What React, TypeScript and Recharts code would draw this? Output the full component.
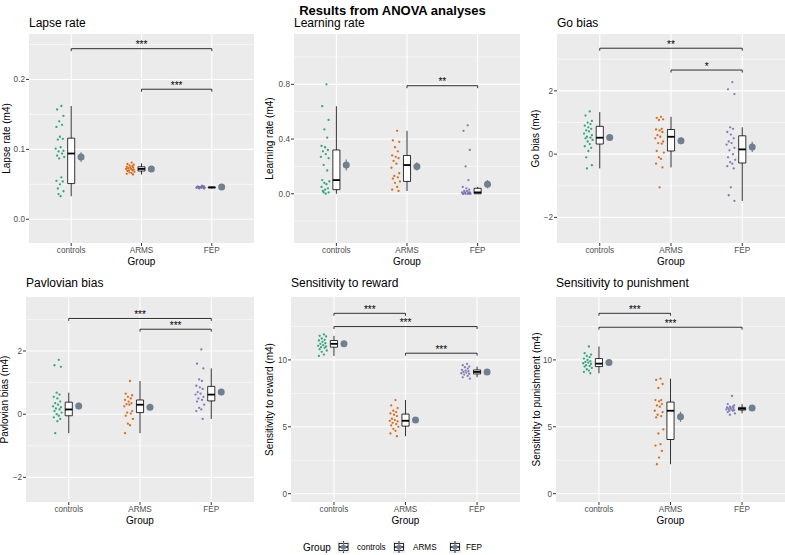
import React from "react";
import {
  ComposedChart,
  Scatter,
  XAxis,
  YAxis,
  CartesianGrid,
  ReferenceArea,
  ReferenceLine,
  ErrorBar,
} from "recharts";

// ── groups / colours ─────────────────────────────────────────────────────────

const GROUPS = ["controls", "ARMS", "FEP"];
const GROUP_COLORS = ["#1B9E77", "#D95F02", "#7570B3"];
const MEAN_COLOR = "#708090";
const FONT = '"Liberation Sans", Arial, Helvetica, sans-serif';

// horizontal jitter of the raw points (group units)
const JITTER = [
  0.02, -0.04, 0.05, -0.01, 0.03, -0.05, 0.0, 0.04, -0.03, 0.01, -0.06, 0.05, -0.02, 0.03,
  -0.04, 0.06, -0.01, 0.02, -0.05, 0.04, 0.0, -0.03, 0.05, -0.02, 0.01, -0.06, 0.03, -0.04,
];

// box = [lower whisker, q1, median, q3, upper whisker]

// ── Lapse rate ───────────────────────────────────────────────────────────────
const LAPSE_CONTROLS = [0.162, 0.157, 0.148, 0.14, 0.135, 0.132, 0.118, 0.115, 0.114, 0.103, 0.101, 0.098, 0.097, 0.094, 0.091, 0.089, 0.087, 0.06, 0.055, 0.054, 0.05, 0.044, 0.04, 0.036, 0.033];
const LAPSE_ARMS = [0.081, 0.079, 0.078, 0.077, 0.076, 0.075, 0.074, 0.074, 0.073, 0.072, 0.072, 0.071, 0.07, 0.07, 0.069, 0.068, 0.067, 0.066, 0.065, 0.064];
const LAPSE_FEP = [0.048, 0.047, 0.047, 0.046, 0.046, 0.046, 0.046, 0.045, 0.045, 0.045, 0.045, 0.044, 0.044, 0.047, 0.046, 0.045, 0.046, 0.047];
const LAPSE_BOX = [[0.033, 0.051, 0.094, 0.116, 0.162], [0.064, 0.069, 0.072, 0.075, 0.08], [0.044, 0.045, 0.0455, 0.046, 0.047]];
const LAPSE_MEAN = [0.089, 0.072, 0.046];
const LAPSE_SE = [0.007, 0.001, 0.0005];
const LAPSE_SIG = [{ from: 1, to: 3, y: 0.244, label: "***" }, { from: 2, to: 3, y: 0.186, label: "***" }];
const LAPSE_TICKS = [0, 0.1, 0.2];
const LAPSE_MINOR = [0.05, 0.15, 0.25];
const LAPSE_DOMAIN = [-0.034, 0.265];

// ── Learning rate ────────────────────────────────────────────────────────────
const LEARN_CONTROLS = [0.8, 0.64, 0.54, 0.47, 0.41, 0.35, 0.34, 0.32, 0.31, 0.29, 0.27, 0.26, 0.21, 0.17, 0.1, 0.09, 0.08, 0.07, 0.05, 0.04, 0.03, 0.02, 0.01, 0.01, 0.0];
const LEARN_ARMS = [0.46, 0.39, 0.38, 0.34, 0.31, 0.28, 0.27, 0.26, 0.24, 0.22, 0.19, 0.15, 0.13, 0.12, 0.11, 0.09, 0.08, 0.05, 0.03, 0.02];
const LEARN_FEP = [0.5, 0.46, 0.32, 0.2, 0.1, 0.05, 0.04, 0.03, 0.02, 0.02, 0.01, 0.01, 0.01, 0.01, 0.0, 0.0, 0.0, 0.0, 0.0, 0.0];
const LEARN_BOX = [[0.0, 0.03, 0.1, 0.32, 0.64], [0.02, 0.09, 0.21, 0.28, 0.46], [0.0, 0.0, 0.01, 0.04, 0.05]];
const LEARN_MEAN = [0.21, 0.2, 0.07];
const LEARN_SE = [0.04, 0.03, 0.03];
const LEARN_SIG = [{ from: 2, to: 3, y: 0.79, label: "**" }];
const LEARN_TICKS = [0, 0.4, 0.8];
const LEARN_MINOR = [-0.2, 0.2, 0.6, 1.0];
const LEARN_DOMAIN = [-0.36, 1.168];

// ── Go bias ──────────────────────────────────────────────────────────────────
const GO_CONTROLS = [1.35, 1.22, 1.05, 1.0, 0.95, 0.9, 0.85, 0.8, 0.75, 0.72, 0.65, 0.6, 0.55, 0.52, 0.5, 0.45, 0.4, 0.32, 0.25, 0.2, 0.1, -0.1, -0.35, -0.45];
const GO_ARMS = [1.18, 1.15, 1.1, 1.08, 0.8, 0.78, 0.75, 0.7, 0.6, 0.55, 0.5, 0.4, 0.35, 0.33, 0.1, 0.05, -0.1, -0.15, -0.3, -0.42, -1.05];
const GO_FEP = [2.28, 2.05, 1.9, 0.85, 0.8, 0.7, 0.62, 0.5, 0.4, 0.35, 0.3, 0.2, 0.12, 0.0, -0.1, -0.18, -0.25, -0.3, -0.38, -0.45, -1.05, -1.3, -1.48];
const GO_BOX = [[-0.45, 0.32, 0.52, 0.88, 1.33], [-0.42, 0.1, 0.55, 0.78, 1.18], [-1.48, -0.28, 0.15, 0.58, 0.85]];
const GO_MEAN = [0.53, 0.42, 0.23];
const GO_SE = [0.08, 0.11, 0.16];
const GO_SIG = [{ from: 1, to: 3, y: 3.35, label: "**" }, { from: 2, to: 3, y: 2.66, label: "*" }];
const GO_TICKS = [-2, 0, 2];
const GO_MINOR = [-1, 1, 3];
const GO_DOMAIN = [-2.81, 3.8];

// ── Pavlovian bias ───────────────────────────────────────────────────────────
const PAV_CONTROLS = [1.72, 1.55, 1.5, 0.68, 0.62, 0.55, 0.5, 0.4, 0.35, 0.3, 0.25, 0.22, 0.18, 0.15, 0.1, 0.05, 0.0, -0.05, -0.1, -0.15, -0.22, -0.6];
const PAV_ARMS = [1.05, 0.65, 0.6, 0.55, 0.5, 0.45, 0.4, 0.35, 0.32, 0.3, 0.25, 0.1, 0.05, 0.02, -0.05, -0.15, -0.3, -0.35, -0.6];
const PAV_FEP = [2.05, 1.6, 1.45, 1.1, 1.05, 0.9, 0.85, 0.8, 0.7, 0.65, 0.62, 0.55, 0.5, 0.45, 0.4, 0.3, 0.2, 0.15, 0.1, -0.15];
const PAV_BOX = [[-0.6, -0.05, 0.15, 0.38, 0.68], [-0.6, 0.05, 0.3, 0.45, 1.05], [-0.15, 0.42, 0.62, 0.88, 1.45]];
const PAV_MEAN = [0.26, 0.22, 0.7];
const PAV_SE = [0.1, 0.08, 0.1];
const PAV_SIG = [{ from: 1, to: 3, y: 3.03, label: "***" }, { from: 2, to: 3, y: 2.69, label: "***" }];
const PAV_TICKS = [-2, 0, 2];
const PAV_MINOR = [-1, 1, 3];
const PAV_DOMAIN = [-2.78, 3.71];

// ── Sensitivity to reward ────────────────────────────────────────────────────
const REW_CONTROLS = [11.9, 11.8, 11.75, 11.6, 11.5, 11.45, 11.35, 11.25, 11.2, 11.1, 11.05, 11.0, 10.95, 10.9, 10.8, 10.7, 10.6, 10.4, 10.3];
const REW_ARMS = [7.0, 6.6, 6.4, 6.2, 6.1, 6.0, 5.9, 5.8, 5.6, 5.5, 5.45, 5.4, 5.3, 5.2, 5.1, 5.0, 4.85, 4.7, 4.5, 4.3];
const REW_FEP = [9.7, 9.6, 9.5, 9.45, 9.35, 9.25, 9.2, 9.15, 9.1, 9.05, 9.0, 8.95, 8.9, 8.8, 8.7, 8.6];
const REW_BOX = [[10.3, 10.95, 11.2, 11.45, 11.8], [4.3, 5.05, 5.45, 5.95, 7.0], [8.7, 8.95, 9.1, 9.25, 9.5]];
const REW_MEAN = [11.2, 5.5, 9.1];
const REW_SE = [0.1, 0.15, 0.06];
const REW_SIG = [{ from: 1, to: 2, y: 13.48, label: "***" }, { from: 1, to: 3, y: 12.49, label: "***" }, { from: 2, to: 3, y: 10.5, label: "***" }];
const REW_TICKS = [0, 5, 10];
const REW_MINOR = [2.5, 7.5, 12.5];
const REW_DOMAIN = [-0.62, 14.7];

// ── Sensitivity to punishment ────────────────────────────────────────────────
const PUN_CONTROLS = [11.0, 10.5, 10.4, 10.3, 10.2, 10.1, 10.0, 9.9, 9.85, 9.8, 9.75, 9.7, 9.6, 9.55, 9.5, 9.4, 9.3, 9.2, 9.1, 9.0];
const PUN_ARMS = [8.6, 8.5, 8.2, 7.9, 7.0, 7.0, 6.9, 6.7, 6.6, 6.5, 6.2, 6.1, 5.9, 5.8, 5.7, 4.8, 4.5, 3.7, 3.6, 3.2, 2.7, 2.2];
const PUN_FEP = [7.3, 6.7, 6.6, 6.5, 6.5, 6.45, 6.4, 6.4, 6.35, 6.3, 6.3, 6.25, 6.2, 6.2, 6.1, 6.0, 5.9];
const PUN_BOX = [[9.0, 9.5, 9.72, 10.1, 11.0], [2.2, 4.05, 6.2, 6.85, 8.6], [6.0, 6.25, 6.35, 6.45, 6.7]];
const PUN_MEAN = [9.8, 5.75, 6.4];
const PUN_SE = [0.1, 0.38, 0.08];
const PUN_SIG = [{ from: 1, to: 2, y: 13.48, label: "***" }, { from: 1, to: 3, y: 12.44, label: "***" }];
const PUN_TICKS = [0, 5, 10];
const PUN_MINOR = [2.5, 7.5, 12.5];
const PUN_DOMAIN = [-0.62, 14.7];

type Sig = { from: number; to: number; y: number; label: string };
type PanelData = {
  title: string;
  yLabel: string;
  groups: number[][];
  boxes: number[][];
  means: number[];
  se: number[];
  sig: Sig[];
  ticks: number[];
  minor: number[];
  domain: number[];
  digits: number;
};

const PANELS: PanelData[] = [
  { title: "Lapse rate", yLabel: "Lapse rate (m4)", groups: [LAPSE_CONTROLS, LAPSE_ARMS, LAPSE_FEP], boxes: LAPSE_BOX, means: LAPSE_MEAN, se: LAPSE_SE, sig: LAPSE_SIG, ticks: LAPSE_TICKS, minor: LAPSE_MINOR, domain: LAPSE_DOMAIN, digits: 1 },
  { title: "Learning rate", yLabel: "Learning rate (m4)", groups: [LEARN_CONTROLS, LEARN_ARMS, LEARN_FEP], boxes: LEARN_BOX, means: LEARN_MEAN, se: LEARN_SE, sig: LEARN_SIG, ticks: LEARN_TICKS, minor: LEARN_MINOR, domain: LEARN_DOMAIN, digits: 1 },
  { title: "Go bias", yLabel: "Go bias (m4)", groups: [GO_CONTROLS, GO_ARMS, GO_FEP], boxes: GO_BOX, means: GO_MEAN, se: GO_SE, sig: GO_SIG, ticks: GO_TICKS, minor: GO_MINOR, domain: GO_DOMAIN, digits: 0 },
  { title: "Pavlovian bias", yLabel: "Pavlovian bias (m4)", groups: [PAV_CONTROLS, PAV_ARMS, PAV_FEP], boxes: PAV_BOX, means: PAV_MEAN, se: PAV_SE, sig: PAV_SIG, ticks: PAV_TICKS, minor: PAV_MINOR, domain: PAV_DOMAIN, digits: 0 },
  { title: "Sensitivity to reward", yLabel: "Sensitivity to reward (m4)", groups: [REW_CONTROLS, REW_ARMS, REW_FEP], boxes: REW_BOX, means: REW_MEAN, se: REW_SE, sig: REW_SIG, ticks: REW_TICKS, minor: REW_MINOR, domain: REW_DOMAIN, digits: 0 },
  { title: "Sensitivity to punishment", yLabel: "Sensitivity to punishment (m4)", groups: [PUN_CONTROLS, PUN_ARMS, PUN_FEP], boxes: PUN_BOX, means: PUN_MEAN, se: PUN_SE, sig: PUN_SIG, ticks: PUN_TICKS, minor: PUN_MINOR, domain: PUN_DOMAIN, digits: 0 },
];

// ── layout (page pixels) ─────────────────────────────────────────────────────

type Box = { left: number; right: number; top: number; bottom: number; plotLeft: number; plotRight: number; plotTop: number; plotBottom: number; titleY: number; groupY: number; yTitleX: number };

const LAYOUT: Box[] = [
  { left: 0, right: 258, top: 30, bottom: 270, plotLeft: 29, plotRight: 254, plotTop: 34, plotBottom: 243, titleY: 27, groupY: 265, yTitleX: 6 },
  { left: 258, right: 524, top: 30, bottom: 270, plotLeft: 294, plotRight: 520, plotTop: 34, plotBottom: 243, titleY: 27, groupY: 265, yTitleX: 269 },
  { left: 524, right: 785, top: 30, bottom: 270, plotLeft: 557, plotRight: 785, plotTop: 34, plotBottom: 243, titleY: 27, groupY: 265, yTitleX: 535 },
  { left: 0, right: 258, top: 290, bottom: 530, plotLeft: 26, plotRight: 254, plotTop: 297, plotBottom: 502, titleY: 287, groupY: 524, yTitleX: 4.5 },
  { left: 258, right: 524, top: 290, bottom: 530, plotLeft: 291, plotRight: 520, plotTop: 297, plotBottom: 502, titleY: 287, groupY: 524, yTitleX: 269 },
  { left: 524, right: 785, top: 290, bottom: 530, plotLeft: 556, plotRight: 785, plotTop: 297, plotBottom: 502, titleY: 287, groupY: 524, yTitleX: 536 },
];

const JITTER_CENTER = -0.16;
const MEAN_SHIFT = 0.14;
const BOX_HALF = 0.05;

function fmtTick(v: number, digits: number): string {
  const s = Math.abs(v).toFixed(digits);
  return v < 0 ? `\u2212${s}` : s;
}

function Panel({ p, l }: { p: PanelData; l: Box }) {
  const tip = (p.domain[1] - p.domain[0]) * 0.012;

  const points = p.groups.map((vals, gi) =>
    vals.map((y, i) => ({ x: gi + 1 + JITTER_CENTER + JITTER[i % JITTER.length], y }))
  );
  const means = p.means.map((m, gi) => ({ x: gi + 1 + MEAN_SHIFT, y: m, se: p.se[gi] }));

  const boxEls: React.ReactNode[] = [];
  p.boxes.forEach(([lo, q1, med, q3, hi], gi) => {
    const g = gi + 1;
    boxEls.push(
      <ReferenceLine key={`wl${gi}`} segment={[{ x: g, y: lo }, { x: g, y: q1 }]} stroke="#000" strokeWidth={0.8} />,
      <ReferenceLine key={`wu${gi}`} segment={[{ x: g, y: q3 }, { x: g, y: hi }]} stroke="#000" strokeWidth={0.8} />,
      <ReferenceArea key={`bx${gi}`} x1={g - BOX_HALF} x2={g + BOX_HALF} y1={q1} y2={q3} fill="#fff" fillOpacity={1} stroke="#000" strokeWidth={0.8} />,
      <ReferenceLine key={`md${gi}`} segment={[{ x: g - BOX_HALF, y: med }, { x: g + BOX_HALF, y: med }]} stroke="#000" strokeWidth={1.8} />
    );
  });

  const sigEls: React.ReactNode[] = [];
  p.sig.forEach((s, si) => {
    sigEls.push(
      <ReferenceLine
        key={`sh${si}`}
        segment={[{ x: s.from, y: s.y }, { x: s.to, y: s.y }]}
        stroke="#000"
        strokeWidth={0.8}
        label={{ value: s.label, position: "top", offset: 0.5, fontSize: 10, fill: "#000" }}
      />,
      <ReferenceLine key={`sl${si}`} segment={[{ x: s.from, y: s.y }, { x: s.from, y: s.y - tip }]} stroke="#000" strokeWidth={0.8} />,
      <ReferenceLine key={`sr${si}`} segment={[{ x: s.to, y: s.y }, { x: s.to, y: s.y - tip }]} stroke="#000" strokeWidth={0.8} />
    );
  });

  return (
    <div style={{ position: "absolute", left: l.left, top: l.top }}>
      <ComposedChart
        width={l.right - l.left}
        height={l.bottom - l.top}
        margin={{ top: l.plotTop - l.top, right: l.right - l.plotRight, bottom: 0, left: 0 }}
      >
        <CartesianGrid fill="#EBEBEB" stroke="#fff" strokeWidth={0.5} vertical={false} horizontalValues={p.minor} />
        <CartesianGrid stroke="#fff" strokeWidth={1.1} horizontalValues={p.ticks} verticalValues={[1, 2, 3]} />
        <XAxis
          type="number"
          dataKey="x"
          domain={[0.4, 3.6]}
          ticks={[1, 2, 3]}
          interval={0}
          allowDataOverflow
          tickFormatter={(v: number) => GROUPS[v - 1]}
          height={l.bottom - l.plotBottom}
          tickSize={3}
          tickMargin={1}
          axisLine={false}
          tickLine={{ stroke: "#333" }}
          tick={{ fill: "#4D4D4D", fontSize: 8.2 }}
        />
        <YAxis
          type="number"
          dataKey="y"
          domain={p.domain}
          ticks={p.ticks}
          interval={0}
          allowDataOverflow
          tickFormatter={(v: number) => fmtTick(v, p.digits)}
          width={l.plotLeft - l.left}
          tickSize={3}
          tickMargin={1}
          axisLine={false}
          tickLine={{ stroke: "#333" }}
          tick={{ fill: "#4D4D4D", fontSize: 8.2 }}
        />
        {boxEls}
        {points.map((pts, gi) => (
          <Scatter
            key={`pts${gi}`}
            data={pts}
            fill={GROUP_COLORS[gi]}
            isAnimationActive={false}
            shape={(sp: any) => <circle cx={sp.cx} cy={sp.cy} r={1.15} fill={GROUP_COLORS[gi]} fillOpacity={0.9} />}
          />
        ))}
        <Scatter
          data={means}
          fill={MEAN_COLOR}
          isAnimationActive={false}
          shape={(sp: any) => <circle cx={sp.cx} cy={sp.cy} r={3.5} fill={MEAN_COLOR} />}
        >
          <ErrorBar dataKey="se" direction="y" width={0} stroke={MEAN_COLOR} strokeWidth={1.2} />
        </Scatter>
        {sigEls}
      </ComposedChart>
    </div>
  );
}

function LegendKey({ cx, cy }: { cx: number; cy: number }) {
  return (
    <g>
      <rect x={cx - 6} y={cy - 6} width={12} height={12} fill="#EBEBEB" />
      <line x1={cx} y1={cy - 6} x2={cx} y2={cy + 6} stroke="#000" strokeWidth={0.8} />
      <rect x={cx - 4.5} y={cy - 3.5} width={9} height={7} fill="#fff" stroke="#000" strokeWidth={0.8} />
      <line x1={cx - 4.5} y1={cy} x2={cx + 4.5} y2={cy} stroke="#000" strokeWidth={1.4} />
      <line x1={cx} y1={cy - 5} x2={cx} y2={cy + 5} stroke={MEAN_COLOR} strokeWidth={1} />
      <circle cx={cx} cy={cy} r={2.6} fill={MEAN_COLOR} />
    </g>
  );
}

const LEGEND_KEYS = [343.5, 399, 455];
const LEGEND_LABELS = [357, 413, 466];

export default function App() {
  return (
    <div style={{ position: "absolute", left: 0, top: 0, width: 785, height: 555, background: "#fff", overflow: "hidden", fontFamily: FONT }}>
      {PANELS.map((p, i) => (
        <Panel key={p.title} p={p} l={LAYOUT[i]} />
      ))}

      {/* titles, axis titles, legend */}
      <svg width={785} height={555} style={{ position: "absolute", left: 0, top: 0, pointerEvents: "none", fontFamily: FONT }}>
        <text x={392.5} y={14.5} textAnchor="middle" fontSize={13} fontWeight="bold" fill="#000">
          Results from ANOVA analyses
        </text>
        {PANELS.map((p, i) => {
          const l = LAYOUT[i];
          const cy = (l.plotTop + l.plotBottom) / 2;
          return (
            <g key={p.title}>
              <text x={l.plotLeft} y={l.titleY} fontSize={12} fill="#000">{p.title}</text>
              <text x={(l.plotLeft + l.plotRight) / 2} y={l.groupY} textAnchor="middle" fontSize={10} fill="#000">Group</text>
              <text
                x={l.yTitleX}
                y={cy}
                transform={`rotate(-90, ${l.yTitleX}, ${cy})`}
                textAnchor="middle"
                dominantBaseline="central"
                fontSize={10}
                fill="#000"
              >
                {p.yLabel}
              </text>
            </g>
          );
        })}
        <text x={303} y={550.5} fontSize={10} fill="#000">Group</text>
        {GROUPS.map((g, i) => (
          <g key={g}>
            <LegendKey cx={LEGEND_KEYS[i]} cy={547} />
            <text x={LEGEND_LABELS[i]} y={550} fontSize={8.2} fill="#000">{g}</text>
          </g>
        ))}
      </svg>
    </div>
  );
}
